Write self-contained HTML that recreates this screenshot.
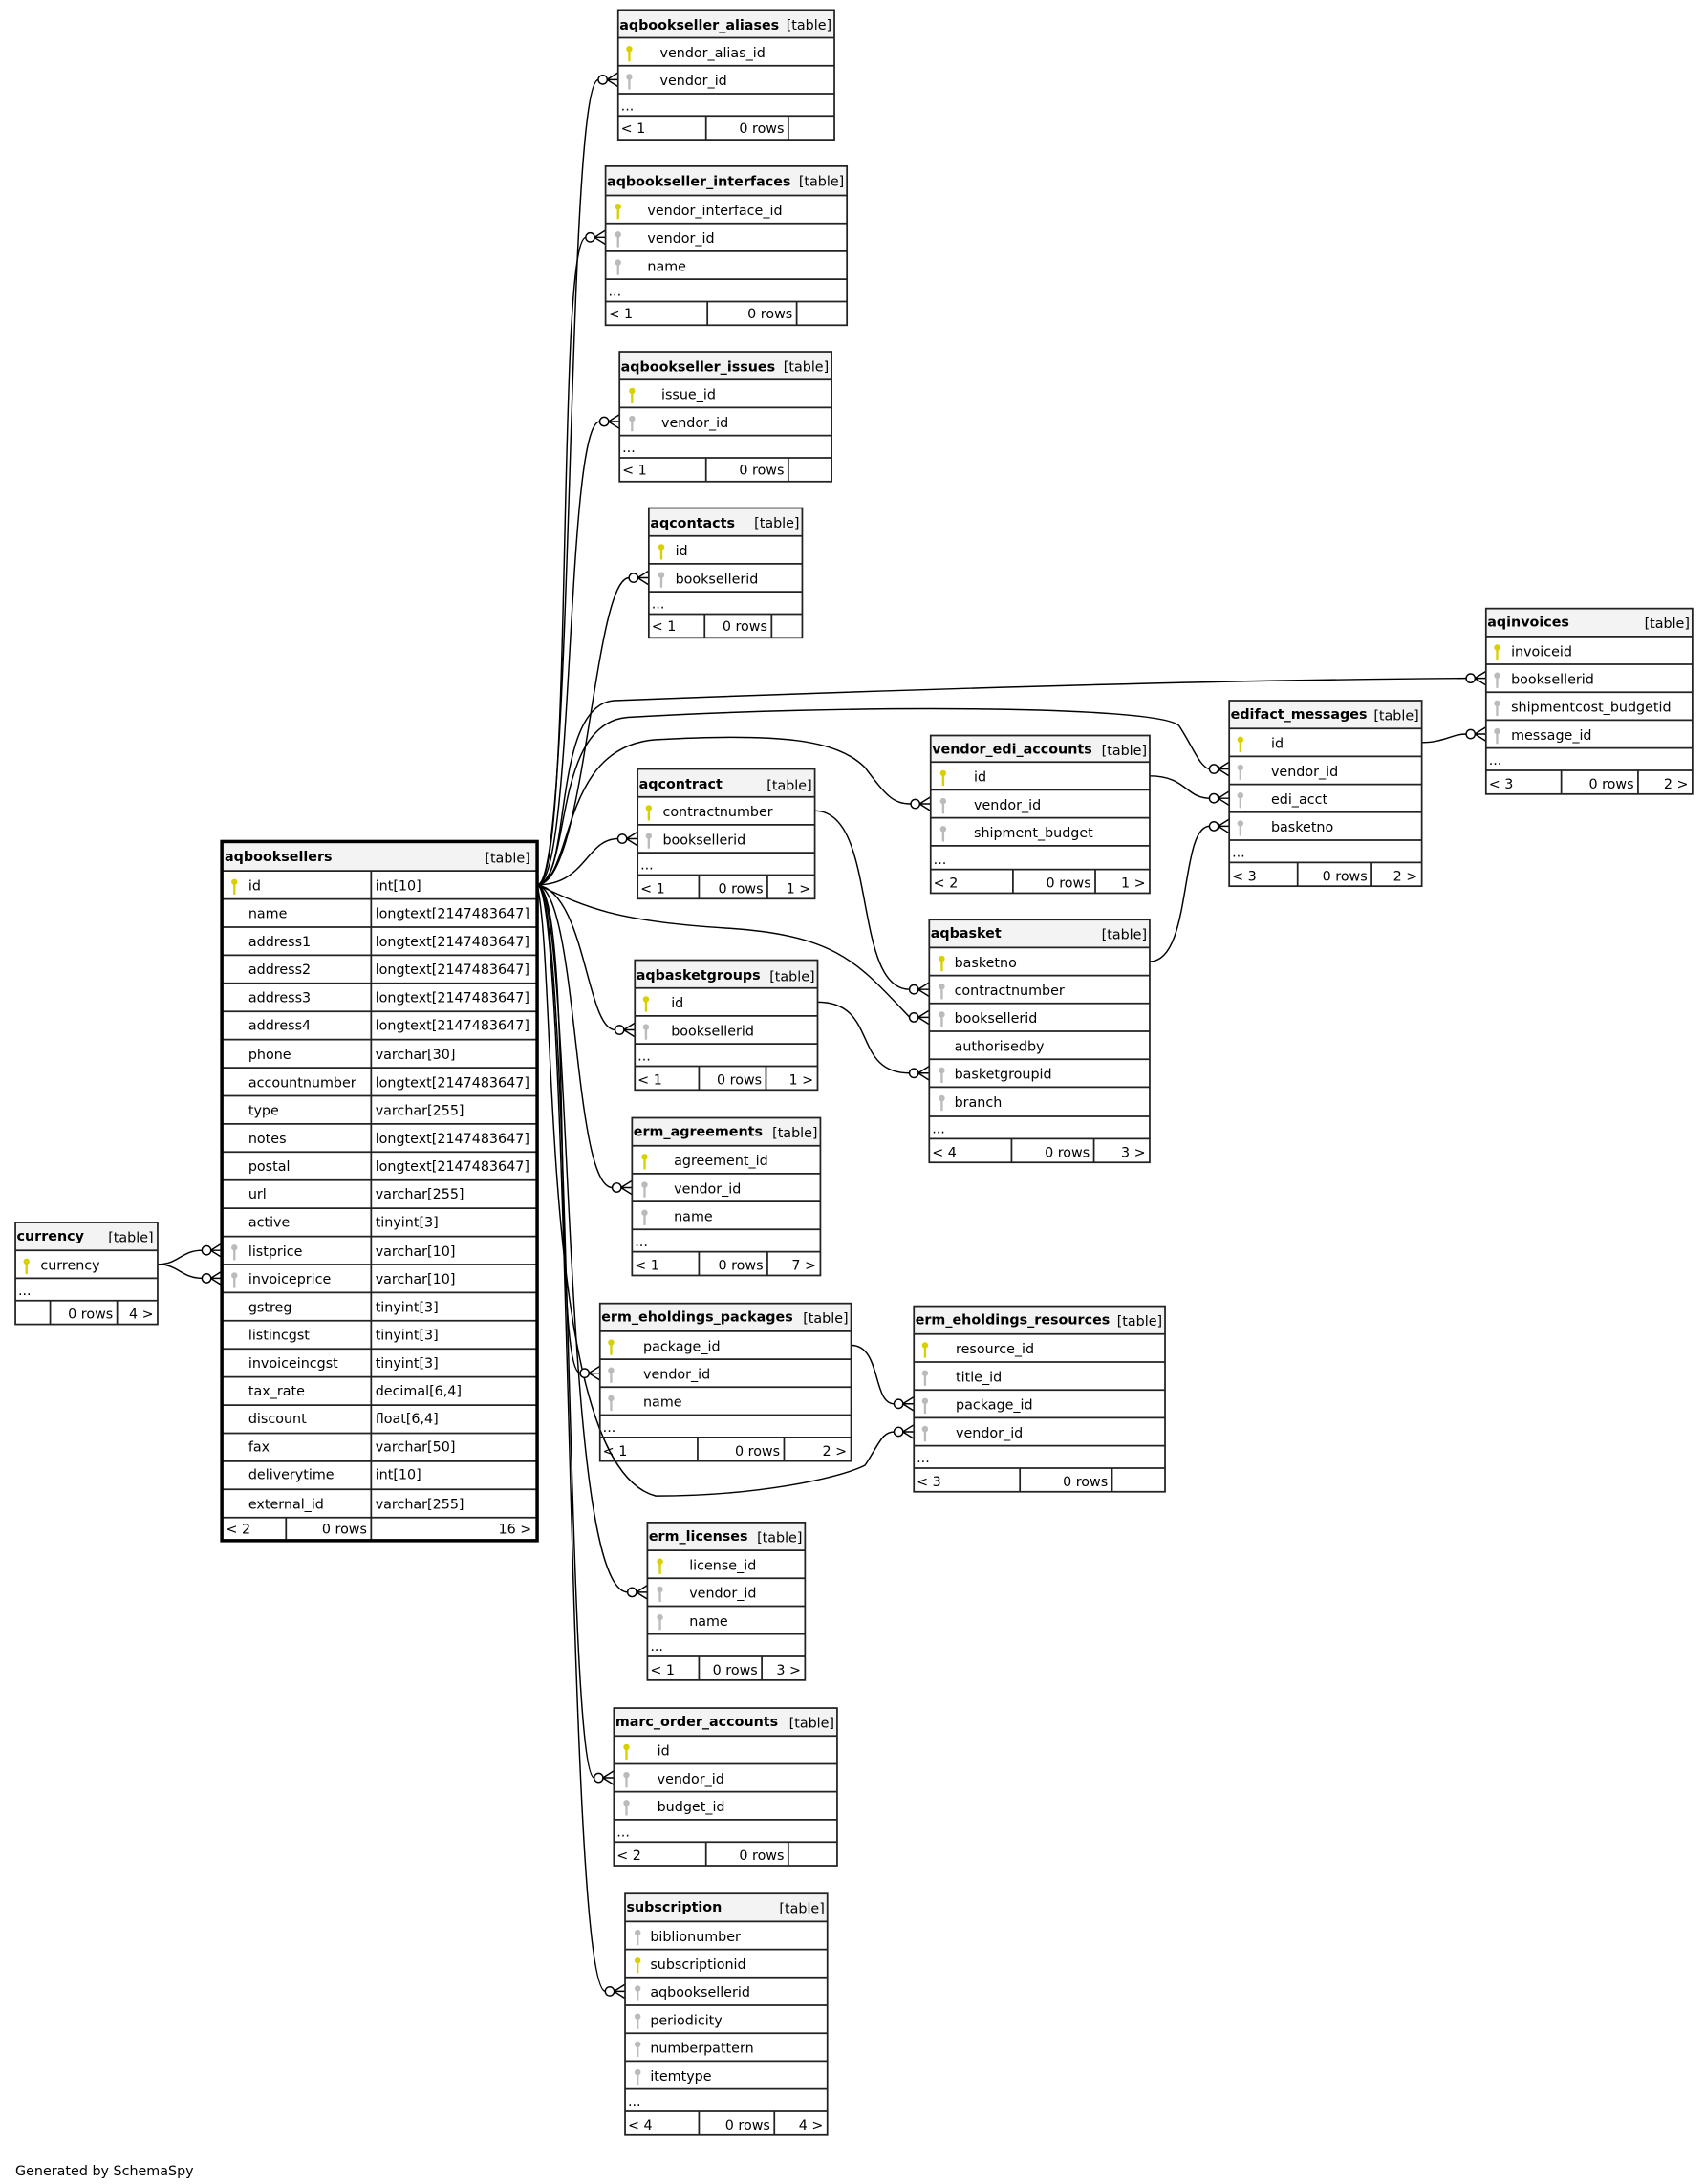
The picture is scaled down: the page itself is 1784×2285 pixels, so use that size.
<!DOCTYPE html>
<html><head><meta charset="utf-8"><style>
html,body{margin:0;padding:0;background:#fff;}
svg{display:block;}
text{font-family:"DejaVu Sans","Liberation Sans",sans-serif;font-size:9.8px;fill:#000;}
.b{font-weight:bold;}
.h{fill:#f3f3f3;stroke:none;}
.o{fill:none;stroke:#222;stroke-width:1.2;}
.l{stroke:#222;stroke-width:1.2;}
.e{fill:none;stroke:#000;stroke-width:1;}
</style></head><body>
<svg width="1784" height="2285" viewBox="0 0 1222 1565" xmlns="http://www.w3.org/2000/svg">
<defs>
<g id="kp"><circle cx="0" cy="-3" r="2.2" fill="#d8d000"/><rect x="-0.8" y="-2" width="1.6" height="8" fill="#d8d000"/></g>
<g id="kf"><circle cx="0" cy="-3" r="2.2" fill="#bbb"/><rect x="-0.8" y="-2" width="1.6" height="8" fill="#bbb"/></g>
<g id="cr"><circle cx="-11" cy="0" r="3.2" fill="#fff" stroke="#000" stroke-width="1"/><path d="M-8,0 L0,-5 M-8,0 L0,0 M-8,0 L0,5" stroke="#000" stroke-width="1" fill="none"/></g>
</defs>

<g class="e">
<path d="M385,634 C412,634 405,57 429,57"/>
<path d="M385,634 C412,634 398,170 420,170"/>
<path d="M385,634 C412,634 405,302 430,302"/>
<path d="M385,634 C420,634 425,414 451,414"/>
<path d="M385,634 C420,634 420,601 443,601"/>
<path d="M385,634 C420,640 420,738 441,738"/>
<path d="M385,634 C415,640 410,851 439,851"/>
<path d="M385,634 C412,640 395,984 416,984"/>
<path d="M385,634 C412,640 400,1141 450,1141"/>
<path d="M385,634 C410,640 405,1274 426,1274"/>
<path d="M385,634 C410,640 405,1427 434,1427"/>
<path d="M385,634 C410,634 395,505 440,502 C700,492 900,487 1051,486"/>
<path d="M385,634 C410,630 395,518 450,514 C600,505 830,505 845,520 C855,535 860,550 867,551"/>
<path d="M385,634 C412,630 400,535 470,530 C560,525 600,530 620,550 C635,570 640,576 653,576"/>
<path d="M385,634 C420,650 440,660 520,665 C600,670 615,690 652,729"/>
<path d="M385,634 C400,700 385,1050 470,1072 C540,1072 600,1060 620,1050 C630,1035 632,1026 641,1026"/>
<path d="M113,906 C128,906 130,896 145,896"/>
<path d="M113,906 C128,906 130,916 145,916"/>
<path d="M584,581 C630,581 610,709 652,709"/>
<path d="M586,718 C630,718 610,769 652,769"/>
<path d="M610,964 C632,964 625,1006 641,1006"/>
<path d="M824,556 C850,556 850,572 867,572"/>
<path d="M824,689 C855,689 845,592 867,592"/>
<path d="M1019,532 C1035,532 1040,526 1051,526"/>
</g>
<g>
<use href="#cr" x="443" y="57"/><use href="#cr" x="434" y="170"/><use href="#cr" x="444" y="302"/>
<use href="#cr" x="465" y="414"/><use href="#cr" x="457" y="601"/><use href="#cr" x="455" y="738"/>
<use href="#cr" x="453" y="851"/><use href="#cr" x="430" y="984"/><use href="#cr" x="464" y="1141"/>
<use href="#cr" x="440" y="1274"/><use href="#cr" x="448" y="1427"/><use href="#cr" x="1065" y="486"/>
<use href="#cr" x="881" y="551"/><use href="#cr" x="667" y="576"/><use href="#cr" x="666" y="729"/>
<use href="#cr" x="655" y="1026"/><use href="#cr" x="159" y="896"/><use href="#cr" x="159" y="916"/>
<use href="#cr" x="666" y="709"/><use href="#cr" x="666" y="769"/><use href="#cr" x="655" y="1006"/>
<use href="#cr" x="881" y="572"/><use href="#cr" x="881" y="592"/><use href="#cr" x="1065" y="526"/>
</g>

<g>
<rect class="h" x="443" y="7" width="155" height="20"/>
<text class="b" x="444" y="21">aqbookseller_aliases</text><text x="596" y="21" text-anchor="end">[table]</text>
<use href="#kp" x="451" y="38"/><text x="473" y="41">vendor_alias_id</text>
<use href="#kf" x="451" y="58"/><text x="473" y="61">vendor_id</text>
<text x="445" y="79">...</text>
<text x="445" y="95">&lt; 1</text><text x="562" y="95" text-anchor="end">0 rows</text>
<path class="l" d="M443,27H598M443,47H598M443,67H598M443,83H598M506,83V100M565,83V100"/>
<rect class="o" x="443" y="7" width="155" height="93"/>
</g>

<g>
<rect class="h" x="434" y="119" width="173" height="21"/>
<text class="b" x="435" y="133">aqbookseller_interfaces</text><text x="605" y="133" text-anchor="end">[table]</text>
<use href="#kp" x="443" y="151"/><text x="464" y="154">vendor_interface_id</text>
<use href="#kf" x="443" y="171"/><text x="464" y="174">vendor_id</text>
<use href="#kf" x="443" y="191"/><text x="464" y="194">name</text>
<text x="436" y="212">...</text>
<text x="436" y="228">&lt; 1</text><text x="568" y="228" text-anchor="end">0 rows</text>
<path class="l" d="M434,140H607M434,160H607M434,180H607M434,200H607M434,216H607M507,216V233M571,216V233"/>
<rect class="o" x="434" y="119" width="173" height="114"/>
</g>

<g>
<rect class="h" x="444" y="252" width="152" height="20"/>
<text class="b" x="445" y="266">aqbookseller_issues</text><text x="594" y="266" text-anchor="end">[table]</text>
<use href="#kp" x="453" y="283"/><text x="474" y="286">issue_id</text>
<use href="#kf" x="453" y="303"/><text x="474" y="306">vendor_id</text>
<text x="446" y="324">...</text>
<text x="446" y="340">&lt; 1</text><text x="562" y="340" text-anchor="end">0 rows</text>
<path class="l" d="M444,272H596M444,292H596M444,312H596M444,328H596M506,328V345M565,328V345"/>
<rect class="o" x="444" y="252" width="152" height="93"/>
</g>

<g>
<rect class="h" x="465" y="364" width="110" height="20"/>
<text class="b" x="466" y="378">aqcontacts</text><text x="573" y="378" text-anchor="end">[table]</text>
<use href="#kp" x="474" y="395"/><text x="484" y="398">id</text>
<use href="#kf" x="474" y="415"/><text x="484" y="418">booksellerid</text>
<text x="467" y="436">...</text>
<text x="467" y="452">&lt; 1</text><text x="550" y="452" text-anchor="end">0 rows</text>
<path class="l" d="M465,384H575M465,404H575M465,424H575M465,440H575M505,440V457M553,440V457"/>
<rect class="o" x="465" y="364" width="110" height="93"/>
</g>

<g>
<rect class="h" x="1065" y="436" width="148" height="20"/>
<text class="b" x="1066" y="449">aqinvoices</text><text x="1211" y="450" text-anchor="end">[table]</text>
<use href="#kp" x="1073" y="467"/><text x="1083" y="470">invoiceid</text>
<use href="#kf" x="1073" y="487"/><text x="1083" y="490">booksellerid</text>
<use href="#kf" x="1073" y="507"/><text x="1083" y="510">shipmentcost_budgetid</text>
<use href="#kf" x="1073" y="527"/><text x="1083" y="530">message_id</text>
<text x="1067" y="548">...</text>
<text x="1067" y="565">&lt; 3</text><text x="1171" y="565" text-anchor="end">0 rows</text><text x="1210" y="565" text-anchor="end">2 &gt;</text>
<path class="l" d="M1065,456H1213M1065,476H1213M1065,496H1213M1065,516H1213M1065,536H1213M1065,552H1213M1119,552V569M1174,552V569"/>
<rect class="o" x="1065" y="436" width="148" height="133"/>
</g>

<g>
<rect class="h" x="881" y="502" width="138" height="20"/>
<text class="b" x="882" y="515">edifact_messages</text><text x="1017" y="516" text-anchor="end">[table]</text>
<use href="#kp" x="889" y="533"/><text x="911" y="536">id</text>
<use href="#kf" x="889" y="553"/><text x="911" y="556">vendor_id</text>
<use href="#kf" x="889" y="573"/><text x="911" y="576">edi_acct</text>
<use href="#kf" x="889" y="593"/><text x="911" y="596">basketno</text>
<text x="883" y="614">...</text>
<text x="883" y="631">&lt; 3</text><text x="980" y="631" text-anchor="end">0 rows</text><text x="1016" y="631" text-anchor="end">2 &gt;</text>
<path class="l" d="M881,522H1019M881,542H1019M881,562H1019M881,582H1019M881,602H1019M881,618H1019M930,618V635M983,618V635"/>
<rect class="o" x="881" y="502" width="138" height="133"/>
</g>

<g>
<rect class="h" x="667" y="527" width="157" height="19"/>
<text class="b" x="668" y="540">vendor_edi_accounts</text><text x="822" y="541" text-anchor="end">[table]</text>
<use href="#kp" x="676" y="557"/><text x="698" y="560">id</text>
<use href="#kf" x="676" y="577"/><text x="698" y="580">vendor_id</text>
<use href="#kf" x="676" y="597"/><text x="698" y="600">shipment_budget</text>
<text x="669" y="619">...</text>
<text x="669" y="636">&lt; 2</text><text x="782" y="636" text-anchor="end">0 rows</text><text x="821" y="636" text-anchor="end">1 &gt;</text>
<path class="l" d="M667,546H824M667,566H824M667,586H824M667,606H824M667,623H824M726,623V640M785,623V640"/>
<rect class="o" x="667" y="527" width="157" height="113"/>
</g>

<g>
<rect class="h" x="457" y="551" width="127" height="20"/>
<text class="b" x="458" y="565">aqcontract</text><text x="582" y="566" text-anchor="end">[table]</text>
<use href="#kp" x="465" y="582"/><text x="475" y="585">contractnumber</text>
<use href="#kf" x="465" y="602"/><text x="475" y="605">booksellerid</text>
<text x="459" y="623">...</text>
<text x="459" y="640">&lt; 1</text><text x="547" y="640" text-anchor="end">0 rows</text><text x="581" y="640" text-anchor="end">1 &gt;</text>
<path class="l" d="M457,571H584M457,591H584M457,611H584M457,627H584M501,627V644M550,627V644"/>
<rect class="o" x="457" y="551" width="127" height="93"/>
</g>

<g>
<rect class="h" x="159" y="603" width="226" height="21"/>
<text class="b" x="161" y="617">aqbooksellers</text><text x="380" y="618" text-anchor="end">[table]</text>
<use href="#kp" x="168" y="635"/><text x="178" y="638">id</text><text x="269" y="638">int[10]</text>
<text x="178" y="658">name</text><text x="269" y="658">longtext[2147483647]</text>
<text x="178" y="678">address1</text><text x="269" y="678">longtext[2147483647]</text>
<text x="178" y="698">address2</text><text x="269" y="698">longtext[2147483647]</text>
<text x="178" y="718">address3</text><text x="269" y="718">longtext[2147483647]</text>
<text x="178" y="738">address4</text><text x="269" y="738">longtext[2147483647]</text>
<text x="178" y="759">phone</text><text x="269" y="759">varchar[30]</text>
<text x="178" y="779">accountnumber</text><text x="269" y="779">longtext[2147483647]</text>
<text x="178" y="799">type</text><text x="269" y="799">varchar[255]</text>
<text x="178" y="819">notes</text><text x="269" y="819">longtext[2147483647]</text>
<text x="178" y="839">postal</text><text x="269" y="839">longtext[2147483647]</text>
<text x="178" y="859">url</text><text x="269" y="859">varchar[255]</text>
<text x="178" y="879">active</text><text x="269" y="879">tinyint[3]</text>
<use href="#kf" x="168" y="897"/><text x="178" y="900">listprice</text><text x="269" y="900">varchar[10]</text>
<use href="#kf" x="168" y="917"/><text x="178" y="920">invoiceprice</text><text x="269" y="920">varchar[10]</text>
<text x="178" y="940">gstreg</text><text x="269" y="940">tinyint[3]</text>
<text x="178" y="960">listincgst</text><text x="269" y="960">tinyint[3]</text>
<text x="178" y="980">invoiceincgst</text><text x="269" y="980">tinyint[3]</text>
<text x="178" y="1000">tax_rate</text><text x="269" y="1000">decimal[6,4]</text>
<text x="178" y="1020">discount</text><text x="269" y="1020">float[6,4]</text>
<text x="178" y="1040">fax</text><text x="269" y="1040">varchar[50]</text>
<text x="178" y="1060">deliverytime</text><text x="269" y="1060">int[10]</text>
<text x="178" y="1081">external_id</text><text x="269" y="1081">varchar[255]</text>
<text x="162" y="1099">&lt; 2</text><text x="263" y="1099" text-anchor="end">0 rows</text><text x="381" y="1099" text-anchor="end">16 &gt;</text>
<path class="l" d="M159,624H385M159,644.2H385M159,664.3H385M159,684.5H385M159,704.6H385M159,724.8H385M159,744.9H385M159,765.1H385M159,785.2H385M159,805.4H385M159,825.5H385M159,845.7H385M159,865.8H385M159,886H385M159,906.1H385M159,926.3H385M159,946.4H385M159,966.6H385M159,986.7H385M159,1006.9H385M159,1027H385M159,1047.2H385M159,1067.3H385M159,1087.5H385M266,624V1087.5M205,1087.5V1104M266,1087.5V1104"/>
<rect x="159" y="603" width="226" height="501" fill="none" stroke="#000" stroke-width="2.4"/>
</g>

<g>
<rect class="h" x="11" y="876" width="102" height="20"/>
<text class="b" x="12" y="889">currency</text><text x="110" y="890" text-anchor="end">[table]</text>
<use href="#kp" x="19" y="907"/><text x="29" y="910">currency</text>
<text x="13" y="928">...</text>
<text x="81" y="945" text-anchor="end">0 rows</text><text x="110" y="945" text-anchor="end">4 &gt;</text>
<path class="l" d="M11,896H113M11,916H113M11,932H113M36,932V949M84,932V949"/>
<rect class="o" x="11" y="876" width="102" height="73"/>
</g>

<g>
<rect class="h" x="666" y="659" width="158" height="20"/>
<text class="b" x="667" y="672">aqbasket</text><text x="822" y="673" text-anchor="end">[table]</text>
<use href="#kp" x="675" y="690"/><text x="684" y="693">basketno</text>
<use href="#kf" x="675" y="710"/><text x="684" y="713">contractnumber</text>
<use href="#kf" x="675" y="730"/><text x="684" y="733">booksellerid</text>
<text x="684" y="753">authorisedby</text>
<use href="#kf" x="675" y="770"/><text x="684" y="773">basketgroupid</text>
<use href="#kf" x="675" y="790"/><text x="684" y="793">branch</text>
<text x="668" y="812">...</text>
<text x="668" y="829">&lt; 4</text><text x="781" y="829" text-anchor="end">0 rows</text><text x="821" y="829" text-anchor="end">3 &gt;</text>
<path class="l" d="M666,679H824M666,699H824M666,719H824M666,739H824M666,759H824M666,779H824M666,800H824M666,816H824M725,816V833M784,816V833"/>
<rect class="o" x="666" y="659" width="158" height="174"/>
</g>

<g>
<rect class="h" x="455" y="688" width="131" height="20"/>
<text class="b" x="456" y="702">aqbasketgroups</text><text x="584" y="703" text-anchor="end">[table]</text>
<use href="#kp" x="463" y="719"/><text x="481" y="722">id</text>
<use href="#kf" x="463" y="739"/><text x="481" y="742">booksellerid</text>
<text x="457" y="760">...</text>
<text x="457" y="777">&lt; 1</text><text x="546" y="777" text-anchor="end">0 rows</text><text x="583" y="777" text-anchor="end">1 &gt;</text>
<path class="l" d="M455,708H586M455,728H586M455,748H586M455,764H586M501,764V781M549,764V781"/>
<rect class="o" x="455" y="688" width="131" height="93"/>
</g>

<g>
<rect class="h" x="453" y="801" width="135" height="20"/>
<text class="b" x="454" y="814">erm_agreements</text><text x="586" y="815" text-anchor="end">[table]</text>
<use href="#kp" x="462" y="832"/><text x="483" y="835">agreement_id</text>
<use href="#kf" x="462" y="852"/><text x="483" y="855">vendor_id</text>
<use href="#kf" x="462" y="872"/><text x="483" y="875">name</text>
<text x="455" y="893">...</text>
<text x="455" y="910">&lt; 1</text><text x="547" y="910" text-anchor="end">0 rows</text><text x="585" y="910" text-anchor="end">7 &gt;</text>
<path class="l" d="M453,821H588M453,841H588M453,861H588M453,881H588M453,897H588M501,897V914M550,897V914"/>
<rect class="o" x="453" y="801" width="135" height="113"/>
</g>

<g>
<rect class="h" x="430" y="934" width="180" height="20"/>
<text class="b" x="431" y="947">erm_eholdings_packages</text><text x="608" y="948" text-anchor="end">[table]</text>
<use href="#kp" x="438" y="965"/><text x="461" y="968">package_id</text>
<use href="#kf" x="438" y="985"/><text x="461" y="988">vendor_id</text>
<use href="#kf" x="438" y="1005"/><text x="461" y="1008">name</text>
<text x="432" y="1026">...</text>
<text x="432" y="1043">&lt; 1</text><text x="559" y="1043" text-anchor="end">0 rows</text><text x="607" y="1043" text-anchor="end">2 &gt;</text>
<path class="l" d="M430,954H610M430,974H610M430,994H610M430,1014H610M430,1030H610M500,1030V1047M562,1030V1047"/>
<rect class="o" x="430" y="934" width="180" height="113"/>
</g>

<g>
<rect class="h" x="655" y="936" width="180" height="20"/>
<text class="b" x="656" y="949">erm_eholdings_resources</text><text x="833" y="950" text-anchor="end">[table]</text>
<use href="#kp" x="663" y="967"/><text x="685" y="970">resource_id</text>
<use href="#kf" x="663" y="987"/><text x="685" y="990">title_id</text>
<use href="#kf" x="663" y="1007"/><text x="685" y="1010">package_id</text>
<use href="#kf" x="663" y="1027"/><text x="685" y="1030">vendor_id</text>
<text x="657" y="1048">...</text>
<text x="657" y="1065">&lt; 3</text><text x="794" y="1065" text-anchor="end">0 rows</text>
<path class="l" d="M655,956H835M655,976H835M655,996H835M655,1016H835M655,1036H835M655,1052H835M731,1052V1069M797,1052V1069"/>
<rect class="o" x="655" y="936" width="180" height="133"/>
</g>

<g>
<rect class="h" x="464" y="1091" width="113" height="20"/>
<text class="b" x="465" y="1104">erm_licenses</text><text x="575" y="1105" text-anchor="end">[table]</text>
<use href="#kp" x="473" y="1122"/><text x="494" y="1125">license_id</text>
<use href="#kf" x="473" y="1142"/><text x="494" y="1145">vendor_id</text>
<use href="#kf" x="473" y="1162"/><text x="494" y="1165">name</text>
<text x="466" y="1183">...</text>
<text x="466" y="1200">&lt; 1</text><text x="543" y="1200" text-anchor="end">0 rows</text><text x="574" y="1200" text-anchor="end">3 &gt;</text>
<path class="l" d="M464,1111H577M464,1131H577M464,1151H577M464,1171H577M464,1187H577M501,1187V1204M546,1187V1204"/>
<rect class="o" x="464" y="1091" width="113" height="113"/>
</g>

<g>
<rect class="h" x="440" y="1224" width="160" height="20"/>
<text class="b" x="441" y="1237">marc_order_accounts</text><text x="598" y="1238" text-anchor="end">[table]</text>
<use href="#kp" x="449" y="1255"/><text x="471" y="1258">id</text>
<use href="#kf" x="449" y="1275"/><text x="471" y="1278">vendor_id</text>
<use href="#kf" x="449" y="1295"/><text x="471" y="1298">budget_id</text>
<text x="442" y="1316">...</text>
<text x="442" y="1333">&lt; 2</text><text x="562" y="1333" text-anchor="end">0 rows</text>
<path class="l" d="M440,1244H600M440,1264H600M440,1284H600M440,1304H600M440,1320H600M506,1320V1337M565,1320V1337"/>
<rect class="o" x="440" y="1224" width="160" height="113"/>
</g>

<g>
<rect class="h" x="448" y="1357" width="145" height="20"/>
<text class="b" x="449" y="1370">subscription</text><text x="591" y="1371" text-anchor="end">[table]</text>
<use href="#kf" x="457" y="1388"/><text x="466" y="1391">biblionumber</text>
<use href="#kp" x="457" y="1408"/><text x="466" y="1411">subscriptionid</text>
<use href="#kf" x="457" y="1428"/><text x="466" y="1431">aqbooksellerid</text>
<use href="#kf" x="457" y="1448"/><text x="466" y="1451">periodicity</text>
<use href="#kf" x="457" y="1468"/><text x="466" y="1471">numberpattern</text>
<use href="#kf" x="457" y="1488"/><text x="466" y="1491">itemtype</text>
<text x="450" y="1509">...</text>
<text x="450" y="1526">&lt; 4</text><text x="552" y="1526" text-anchor="end">0 rows</text><text x="590" y="1526" text-anchor="end">4 &gt;</text>
<path class="l" d="M448,1377H593M448,1397H593M448,1417H593M448,1437H593M448,1457H593M448,1477H593M448,1497H593M448,1513H593M501,1513V1530M555,1513V1530"/>
<rect class="o" x="448" y="1357" width="145" height="173"/>
</g>

<text x="11" y="1559">Generated by SchemaSpy</text>
</svg>
</body></html>
